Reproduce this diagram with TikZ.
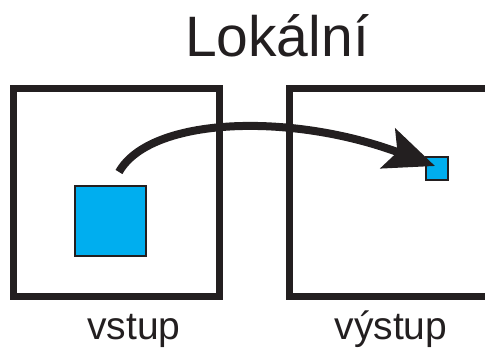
\documentclass[tikz,border=0pt]{standalone}
\usepackage{fontspec}
\setmainfont{Liberation Sans}
\usetikzlibrary{arrows.meta}
\definecolor{ink}{HTML}{231F20}
\definecolor{cellblue}{HTML}{00AEEF}
\tikzset{
  frame/.style={draw=ink, line width=7pt, rectangle, inner sep=0pt},
  cell/.style={draw=ink, line width=1.6pt, fill=cellblue, rectangle, inner sep=0pt},
  caption/.style={text=ink, font=\fontsize{39}{44}\selectfont, anchor=base, inner sep=0pt},
  flow/.style={draw=ink, line width=8pt, -{Stealth[length=50pt, width=42pt, inset=10pt]}}
}
\begin{document}
\begin{tikzpicture}[x=1pt, y=-1pt]
  \useasboundingbox (0,0) rectangle (485,350);
  \clip (0,0) rectangle (485,350);
  % title
  \node[text=ink, font=\fontsize{57}{62}\selectfont, anchor=base, inner sep=0pt] (title) at (277,57) {Lokální};
  % input and output frames
  \node[frame, minimum width=206pt, minimum height=208pt] (in) at (116.5,192.5) {};
  \node[frame, minimum width=206pt, minimum height=207pt] (out) at (392,192.5) {};
  % cells
  \node[cell, minimum width=71pt, minimum height=70pt] (big) at (110.5,221) {};
  \node[cell, minimum width=22pt, minimum height=23pt] (small) at (437,168.5) {};
  % mapping arrow
  \coordinate (src) at (119,172);
  \coordinate (tip) at (435,166);
  \draw[flow] (src) .. controls (150,117) and (290,112) .. (tip);
  % captions
  \node[caption] (lin) at (134,339) {vstup};
  \node[caption] (lout) at (391,339) {výstup};
\end{tikzpicture}
\end{document}
